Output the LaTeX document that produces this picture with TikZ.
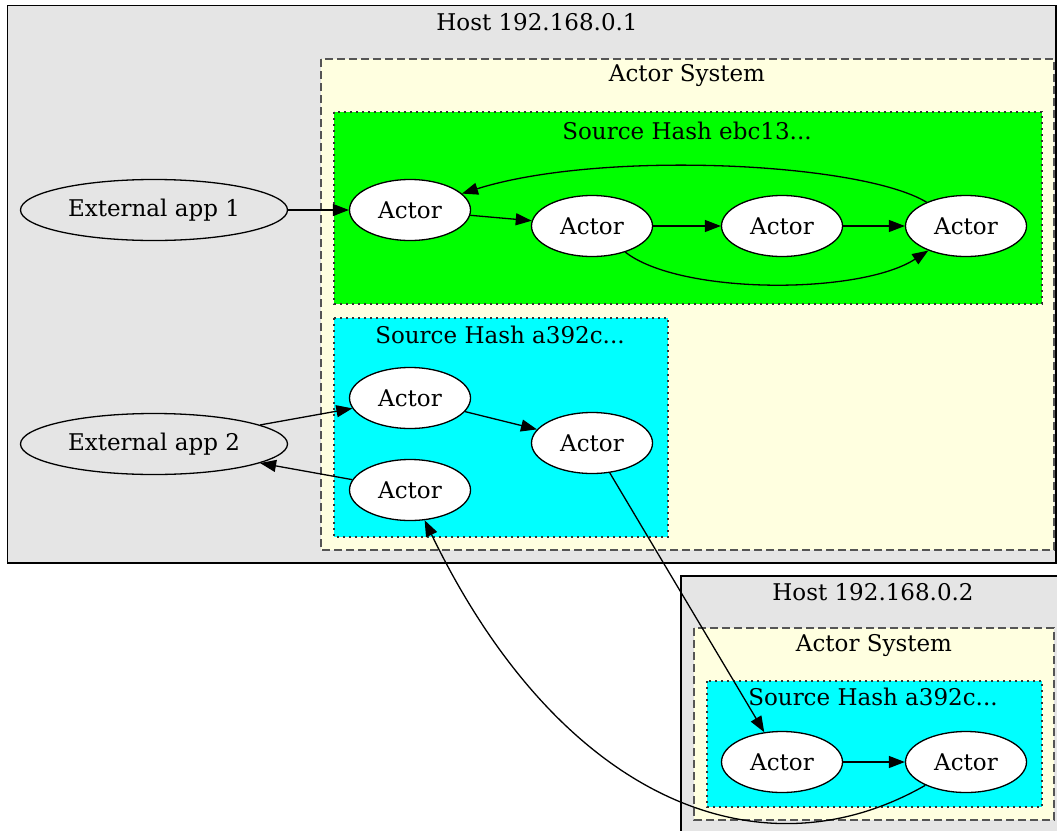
\documentclass[tikz,border=0pt]{standalone}
\usepackage{fontspec}
\setmainfont{DejaVu Serif}
\usetikzlibrary{shapes.geometric,arrows.meta}
\definecolor{hostgray}{HTML}{E5E5E5}
\definecolor{sysyellow}{HTML}{FFFFE0}
\definecolor{dashgray}{HTML}{555555}
\definecolor{hashgreen}{HTML}{00FF00}
\definecolor{hashcyan}{HTML}{00FFFF}
\begin{document}
\begin{tikzpicture}[x=1pt,y=-1pt]

		% Define basic styles
		\tikzset{
			host/.style={
				draw=black, line width=1.3pt, fill=hostgray
			},
			system/.style={
				draw=dashgray, line width=1.8pt, fill=sysyellow,
				dash pattern=on 8pt off 4pt
			},
			hash/.style={
				draw=black!80, line width=1.6pt,
				dash pattern=on 1.6pt off 4.4pt
			},
			clabel/.style={
				font=\fontsize{23}{28}\selectfont, inner sep=0pt
			},
			actor/.style={
				ellipse, draw=black, line width=1.3pt, fill=white,
				minimum width=121pt, minimum height=61pt, inner sep=0pt,
				font=\fontsize{23}{28}\selectfont
			},
			app/.style={
				ellipse, draw=black, line width=1.3pt,
				minimum width=267pt, minimum height=61pt, inner sep=0pt,
				font=\fontsize{23}{28}\selectfont
			},
			arrow/.style={
				line width=1.3pt, -{Triangle[length=16pt,width=12pt]}
			}
		}

		\useasboundingbox (0,0) rectangle (1057,830);

		% Clusters
		\draw[host] (7.5,5.5) rectangle (1056,563);
		\node[clabel] (host1) at (537,22) {Host 192.168.0.1};
		\draw[system] (321,59) rectangle (1054,550);
		\node[clabel] (sys1) at (687,76) {Actor System};
		\fill[hashgreen] (334,112) rectangle (1042,304);
		\draw[hash] (334,112) rectangle (1042,304);
		\node[clabel] (hashA) at (687,131) {Source Hash ebc13...};
		\fill[hashcyan] (334,318) rectangle (668,537);
		\draw[hash] (334,318) rectangle (668,537);
		\node[clabel] (hashB) at (500,335) {Source Hash a392c...};

		\draw[host] (681,576) rectangle (1070,850);
		\node[clabel] (host2) at (873,592) {Host 192.168.0.2};
		\draw[system] (694,628) rectangle (1054,820);
		\node[clabel] (sys2) at (874,646) {Actor System};
		\fill[hashcyan] (707,681) rectangle (1042,807);
		\draw[hash] (707,681) rectangle (1042,807);
		\node[clabel] (hashC) at (873,697) {Source Hash a392c...};

		% Nodes
		\node[app] (ext1) at (154,210) {External app 1};
		\node[app] (ext2) at (154,444) {External app 2};
		\node[actor] (a1) at (410,210) {Actor};
		\node[actor] (a2) at (592,226) {Actor};
		\node[actor] (a3) at (782,226) {Actor};
		\node[actor] (a4) at (966,226) {Actor};
		\node[actor] (b1) at (410,398) {Actor};
		\node[actor] (b2) at (592,443) {Actor};
		\node[actor] (b3) at (410,490) {Actor};
		\node[actor] (c1) at (782,762) {Actor};
		\node[actor] (c2) at (966,762) {Actor};

		% Arrows
		\draw[arrow] (ext1) -- (a1);
		\draw[arrow] (a1) -- (a2);
		\draw[arrow] (a2) -- (a3);
		\draw[arrow] (a3) -- (a4);
		\draw[arrow] (a4) .. controls (860,162) and (600,150) .. (a1);
		\draw[arrow] (a2) .. controls (680,295) and (860,295) .. (a4);
		\draw[arrow] (ext2) -- (b1);
		\draw[arrow] (b1) -- (b2);
		\draw[arrow] (b3) -- (ext2);
		\draw[arrow] (b2) -- (c1);
		\draw[arrow] (c1) -- (c2);
		\draw[arrow] (c2) .. controls (760,880) and (560,800) .. (b3);

\end{tikzpicture}
\end{document}
